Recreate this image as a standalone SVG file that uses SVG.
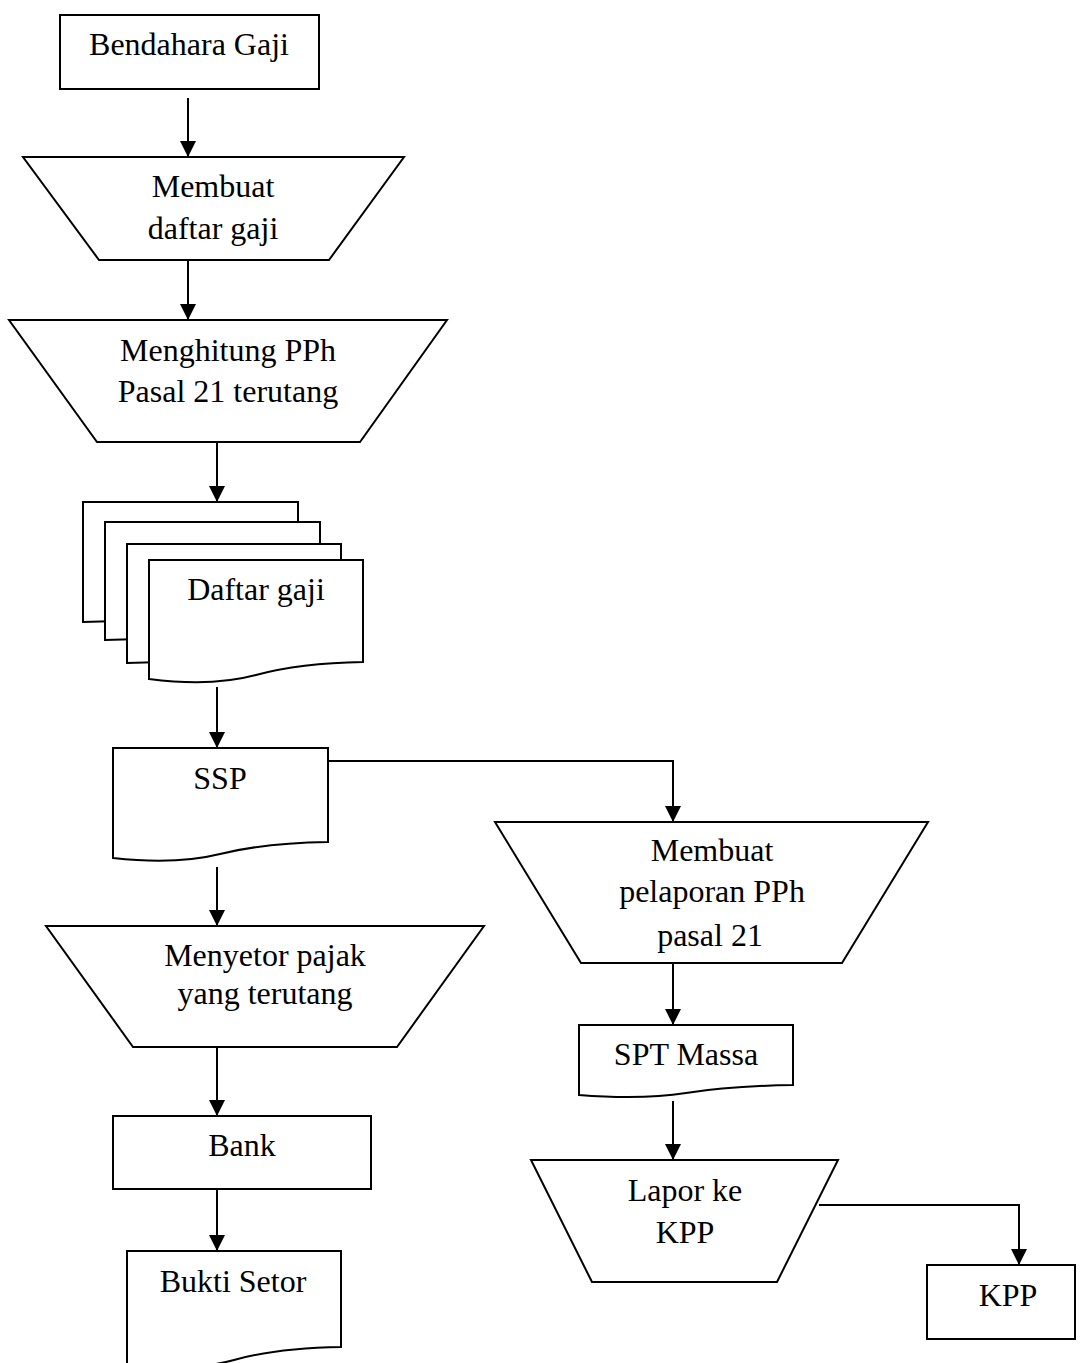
<svg xmlns="http://www.w3.org/2000/svg" width="1081" height="1363" viewBox="0 0 1081 1363">
<style>
.s{fill:#fff;stroke:#000;stroke-width:2}
.c{fill:none;stroke:#000;stroke-width:2}
text{font-family:"Liberation Serif","Times New Roman",serif;font-size:32px;fill:#000;text-anchor:middle}
</style>
<defs>
<marker id="ah" markerUnits="userSpaceOnUse" markerWidth="18" markerHeight="18" refX="16" refY="8" orient="auto">
<path d="M0,0 L16,8 L0,16 Z" fill="#000"/>
</marker>
</defs>
<rect width="1081" height="1363" fill="#fff"/>
<g id="connectors">
<path class="c" d="M188,98 V157" marker-end="url(#ah)"/>
<path class="c" d="M188,260 V320" marker-end="url(#ah)"/>
<path class="c" d="M217,442 V502" marker-end="url(#ah)"/>
<path class="c" d="M217,687 V748" marker-end="url(#ah)"/>
<path class="c" d="M328,761 H673 V822" marker-end="url(#ah)"/>
<path class="c" d="M217,867 V926" marker-end="url(#ah)"/>
<path class="c" d="M217,1047 V1116" marker-end="url(#ah)"/>
<path class="c" d="M217,1189 V1251" marker-end="url(#ah)"/>
<path class="c" d="M673,963 V1025" marker-end="url(#ah)"/>
<path class="c" d="M673,1101 V1160" marker-end="url(#ah)"/>
<path class="c" d="M819,1205 H1019 V1265" marker-end="url(#ah)"/>
</g>
<g id="bendahara-gaji">
<rect class="s" x="60" y="15" width="259" height="74"/>
<text x="189" y="55">Bendahara Gaji</text>
</g>
<g id="membuat-daftar-gaji">
<polygon class="s" points="23,157 404,157 329,260 99,260"/>
<text x="213" y="197">Membuat</text>
<text x="213" y="239">daftar gaji</text>
</g>
<g id="menghitung-pph">
<polygon class="s" points="9,320 447,320 360,442 97,442"/>
<text x="228" y="361">Menghitung PPh</text>
<text x="228" y="402">Pasal 21 terutang</text>
</g>
<g id="daftar-gaji">
<path class="s" d="M83,502 H298 V605 Q245,611 190,616 T83,622 Z"/>
<path class="s" d="M105,522 H320 V623 Q267,629 212,634 T105,640 Z"/>
<path class="s" d="M127,544 H341 V646 Q288,652 234,657 T127,663 Z"/>
<path class="s" d="M149,560 H363 V662 Q300,663 256,675 T149,679 Z"/>
<text x="256" y="600">Daftar gaji</text>
</g>
<g id="ssp">
<path class="s" d="M113,748 H328 V842 Q264,843 220,854 T113,858 Z"/>
<text x="220" y="789">SSP</text>
</g>
<g id="menyetor-pajak">
<polygon class="s" points="46,926 484,926 397,1047 133,1047"/>
<text x="265" y="966">Menyetor pajak</text>
<text x="265" y="1004">yang terutang</text>
</g>
<g id="bank">
<rect class="s" x="113" y="1116" width="258" height="73"/>
<text x="242" y="1156">Bank</text>
</g>
<g id="bukti-setor">
<path class="s" d="M127,1251 H341 V1347 Q277,1348 234,1360 T127,1364 Z"/>
<text x="233" y="1292">Bukti Setor</text>
</g>
<g id="membuat-pelaporan">
<polygon class="s" points="495,822 928,822 842,963 581,963"/>
<text x="712" y="861">Membuat</text>
<text x="712" y="902">pelaporan PPh</text>
<text x="710" y="946">pasal 21</text>
</g>
<g id="spt-massa">
<path class="s" d="M579,1025 H793 V1085 Q730,1086 686,1093 T579,1095 Z"/>
<text x="686" y="1065">SPT Massa</text>
</g>
<g id="lapor-ke-kpp">
<polygon class="s" points="531,1160 838,1160 777,1282 592,1282"/>
<text x="685" y="1201">Lapor ke</text>
<text x="685" y="1243">KPP</text>
</g>
<g id="kpp">
<rect class="s" x="927" y="1265" width="148" height="74"/>
<text x="1008" y="1306">KPP</text>
</g>
</svg>
